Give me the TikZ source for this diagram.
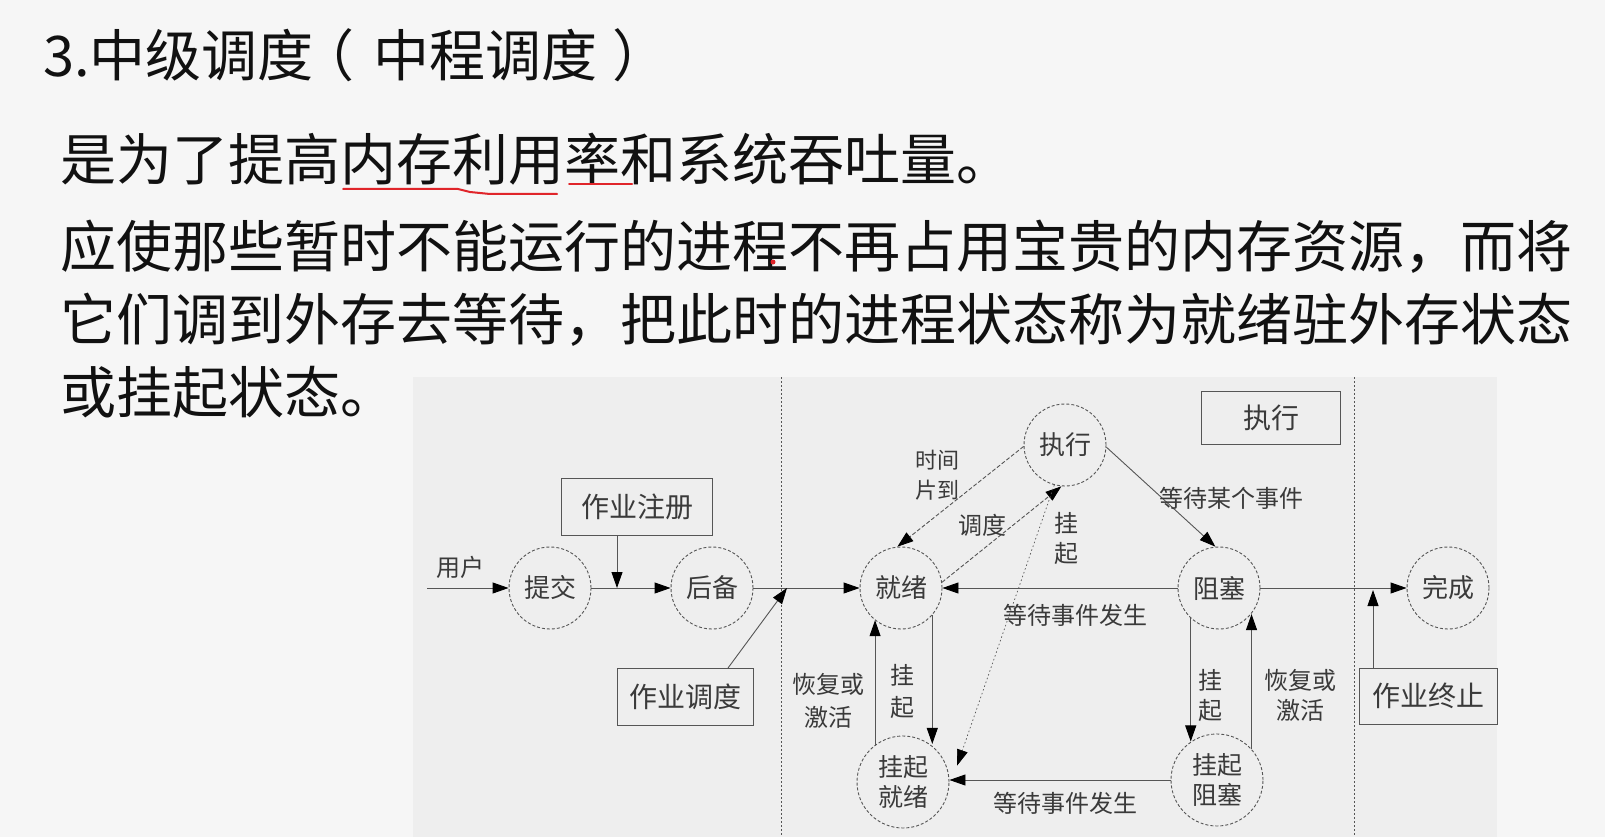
\documentclass[tikz,border=0pt]{standalone}
\usepackage{fontspec}
\setmainfont{Noto Sans CJK SC}
\usetikzlibrary{arrows.meta,calc}

\definecolor{slidebg}{HTML}{F6F6F6}
\definecolor{figbg}{HTML}{EEEEEE}
\definecolor{ink}{HTML}{111111}
\definecolor{figink}{HTML}{3A3A3A}
\definecolor{figline}{HTML}{555555}
\definecolor{penred}{HTML}{E0252A}

\begin{document}
\begin{tikzpicture}[x=1pt,y=-1pt,
  body/.style={anchor=base west, inner sep=0pt, text=ink,
    font=\fontsize{56}{60}\selectfont},
  state/.style={circle, draw=figline, dash pattern=on 3pt off 2pt,
    line width=0.9pt, minimum size=82pt, inner sep=0pt, text=figink,
    font=\fontsize{26}{30}\selectfont},
  bigstate/.style={state, minimum size=92pt, align=center,
    font=\fontsize{25}{30}\selectfont},
  tag/.style={draw=figline, line width=1pt, inner sep=0pt, text=figink,
    font=\fontsize{28}{30}\selectfont},
  lbl/.style={inner sep=0pt, text=figink, align=center,
    font=\fontsize{24}{32}\selectfont},
  smalllbl/.style={lbl, font=\fontsize{22}{30}\selectfont},
  arr/.style={draw=figline, line width=0.9pt,
    -{Triangle[length=16pt,width=11pt,color=black]}},
  diag/.style={arr, dash pattern=on 4pt off 2pt},
  dotline/.style={arr, line width=0.7pt, dash pattern=on 1.5pt off 2.5pt},
  divider/.style={draw=figline, line width=0.7pt, dash pattern=on 2pt off 2pt}
]
% page and figure backgrounds
\useasboundingbox (0,0) rectangle (1605,837);
\fill[slidebg] (0,0) rectangle (1605,837);
\fill[figbg] (413,377) rectangle (1497,837);

% slide text
\node[body] (title) at (43,77) {3.中级调度\hspace{-15pt}（\hspace{19pt}中程调度\hspace{15pt}）};
\node[body] (l1) at (60,181) {是为了提高内存利用率和系统吞吐量。};
\node[body] (l2) at (60,267) {应使那些暂时不能运行的进程不再占用宝贵的内存资源，而将};
\node[body] (l3) at (60,340) {它们调到外存去等待，把此时的进程状态称为就绪驻外存状态};
\node[body] (l4) at (60,413) {或挂起状态。};

% pen marks
\draw[penred, line width=2pt, line cap=round]
  (343,189) -- (458,189) -- (470,192) -- (490,194) -- (557,194);
\draw[penred, line width=2pt, line cap=round] (569,184) -- (632,184);
\fill[penred] (773,262) circle (2.5);

% region dividers
\draw[divider] (781,377) -- (781,837);
\draw[divider] (1354,377) -- (1354,837);

% states
\node[state] (tj) at (550,588) {提交};
\node[state] (hb) at (712,588) {后备};
\node[state] (jx) at (901,588) {就绪};
\node[state] (zx) at (1065,445) {执行};
\node[state] (zs) at (1219,588) {阻塞};
\node[state] (wc) at (1448,588) {完成};
\node[bigstate] (gj) at (903,782) {挂起\\就绪};
\node[bigstate] (gz) at (1217,780) {挂起\\阻塞};

% boxes
\node[tag, minimum width=151pt, minimum height=57pt] (zc) at (637,507) {作业注册};
\node[tag, minimum width=136pt, minimum height=57pt] (zd) at (685,697) {作业调度};
\node[tag, minimum width=139pt, minimum height=53pt] (zb) at (1271,418) {执行};
\node[tag, minimum width=138pt, minimum height=56pt] (zz) at (1428,696) {作业终止};

% junction points on the main line
\coordinate (src) at (427,588);
\coordinate (j1) at (617,588);
\coordinate (j2) at (787,588);
\coordinate (j3) at (1373,590);

% connectors
\draw[arr] (src) -- (tj.west);
\draw[arr] (tj.east) -- (hb.west);
\draw[arr] (zc.south -| j1) -- (j1);
\draw[arr] (hb.east) -- (jx.west);
\draw[arr] ($(zd.north)+(43,0)$) -- (j2);
\draw[diag] (zx.182) -- (jx.95);
\draw[diag] (jx.8) -- (zx.265);
\draw[dotline, shorten >=25pt] (zx.255) -- (gj.-9);
\draw[arr] (zx.-3) -- (zs.95);
\draw[arr] (zs.west) -- (jx.east);
\draw[arr] (jx.-41) -- (jx.-41 |- gj.55);
\draw[arr] (gj.127) -- (gj.127 |- jx.231);
\draw[arr] (zs.227) -- (zs.227 |- gz.124);
\draw[arr] (gz.42) -- (gz.42 |- zs.-39);
\draw[arr] (gz.west) -- (gz.west -| gj.east);
\draw[arr] (zs.east) -- (wc.west);
\draw[arr] (zz.north -| j3) -- (j3);

% connector labels
\node[lbl] (u) at (460,567) {用户};
\node[smalllbl] (t1) at (937,475) {时间\\片到};
\node[lbl] (t2) at (982,525) {调度};
\node[lbl, font=\fontsize{24}{30}\selectfont] (t3) at (1066,538) {挂\\起};
\node[lbl] (t4) at (1231,498) {等待某个事件};
\node[lbl] (t5) at (1075,615) {等待事件发生};
\node[lbl] (t6) at (1065,803) {等待事件发生};
\node[lbl] (t7) at (902,691) {挂\\起};
\node[lbl, font=\fontsize{24}{33}\selectfont] (t8) at (828,701) {恢复或\\激活};
\node[lbl, font=\fontsize{24}{30}\selectfont] (t9) at (1210,695) {挂\\起};
\node[lbl, font=\fontsize{24}{30}\selectfont] (t10) at (1300,695) {恢复或\\激活};
\end{tikzpicture}
\end{document}
